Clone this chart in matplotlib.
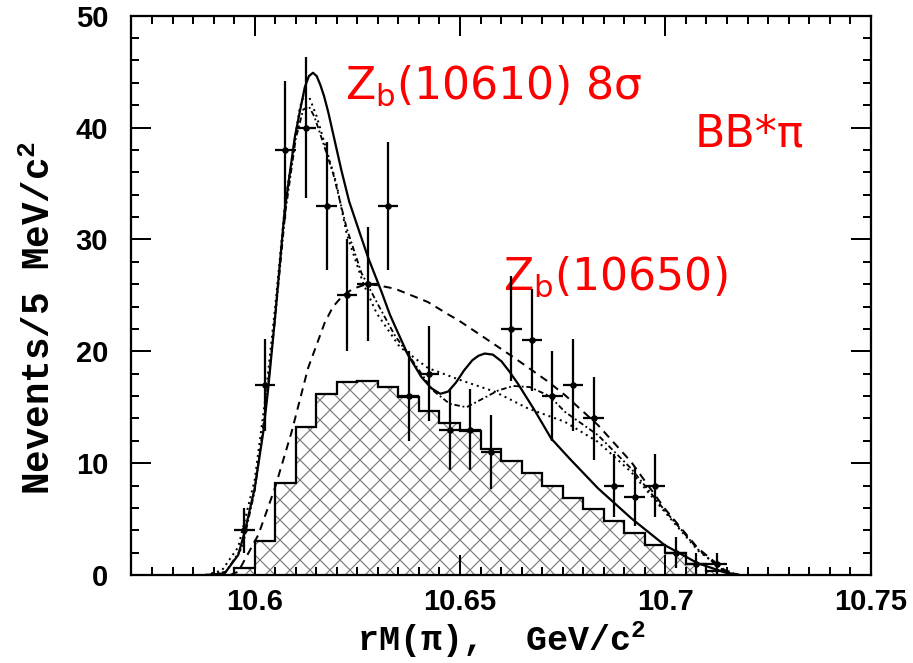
import numpy as np
import matplotlib
matplotlib.use('Agg')
import matplotlib.pyplot as plt
from matplotlib.ticker import MultipleLocator, FixedLocator

# figure is drawn at 120 dpi so that the 'xx' hatch gets the coarser spacing
DPI = 120
plt.rcParams['hatch.linewidth'] = 0.7
plt.rcParams['mathtext.default'] = 'regular'

# -----------------------------
# data
# -----------------------------

# data points (bin centres, 5 MeV bins)
pt_x = [10.5975, 10.6025, 10.6075, 10.6125, 10.6175, 10.6225, 10.6275, 10.6325,
        10.6375, 10.6425, 10.6475, 10.6525, 10.6575, 10.6625, 10.6675, 10.6725,
        10.6775, 10.6825, 10.6875, 10.6925, 10.6975, 10.7025, 10.7075, 10.7125]
pt_y = [4, 17, 38, 40, 33, 25, 26, 33, 16, 18, 13, 13, 11, 22, 21, 16,
        17, 14, 8, 7, 8, 2, 1, 1]

# hatched background histogram
bkg_edges = np.arange(10.595, 10.7151, 0.005)
bkg_vals = [0.65, 3.05, 8.2, 13.25, 16.15, 17.25, 17.35, 16.8, 15.9, 14.7, 13.6, 12.9,
            11.3, 10.15, 9.1, 8.0, 6.9, 5.9, 4.8, 3.75, 2.7, 1.95, 0.95, 0.4]

# total fit (solid)
fit_x = [10.588, 10.5927, 10.596, 10.5976, 10.600, 10.6021, 10.6033, 10.6049, 10.6073,
         10.6098, 10.6112, 10.6122, 10.6132, 10.6142, 10.6151, 10.6160, 10.6169,
         10.6179, 10.6195, 10.6211, 10.6230, 10.6252, 10.6276, 10.6309, 10.6329,
         10.6341, 10.6373, 10.6406, 10.6430, 10.6452, 10.6471, 10.6490, 10.6510,
         10.6530, 10.6545, 10.6560, 10.6580, 10.6601, 10.6620, 10.6641, 10.6682,
         10.6722, 10.6767, 10.6836, 10.6917, 10.6998, 10.7079, 10.7144, 10.718]
fit_y = [0, 0.15, 1.8, 3.9, 7.75, 12.8, 16.7, 22.8, 32.6, 39.2, 41.8, 43.6, 44.6,
         44.9, 44.6, 43.8, 42.8, 41.4, 38.8, 36.2, 33.4, 31.0, 28.4, 25.3, 23.3,
         22.3, 19.7, 17.7, 16.7, 16.2, 16.4, 17.2, 18.3, 19.2, 19.6, 19.8, 19.7,
         19.1, 18.2, 17.1, 14.7, 12.2, 10.4, 7.75, 5.07, 2.68, 1.05, 0.24, 0]

# dashed component
dsh_x = [10.594, 10.5960, 10.6009, 10.6049, 10.6090, 10.6130, 10.6171, 10.6191,
         10.6215, 10.6240, 10.6272, 10.6300, 10.6341, 10.6402, 10.6422, 10.6471,
         10.6495, 10.6552, 10.6633, 10.6714, 10.6755, 10.6836, 10.6917, 10.6998,
         10.7079, 10.7144, 10.718]
dsh_y = [0, 0.3, 3.6, 7.75, 12.8, 18.5, 22.6, 24.0, 25.0, 25.6, 26.0, 25.9, 25.6,
         24.7, 24.4, 23.3, 22.8, 21.4, 19.4, 17.3, 16.1, 13.4, 10.1, 5.96, 2.4, 0.45, 0]

# dotted component
dot_x = [10.588, 10.592, 10.596, 10.600, 10.6025, 10.605, 10.6075, 10.610, 10.6110,
         10.6120, 10.6132, 10.6151, 10.6175, 10.6199, 10.6224, 10.6264, 10.6297,
         10.6353, 10.6422, 10.6503, 10.6584, 10.6665, 10.6755, 10.6836, 10.6917,
         10.6998, 10.7079, 10.7144, 10.718]
dot_y = [0, 0.4, 2.5, 8.5, 15.5, 24.0, 33.5, 39.5, 41.8, 42.9, 42.8, 41.0, 38.0,
         35.0, 30.5, 26.1, 23.4, 20.4, 18.5, 17.4, 16.4, 14.9, 13.7, 11.9, 9.2,
         5.66, 2.2, 0.35, 0]

# dash-dotted component
dd_x = [10.589, 10.593, 10.597, 10.600, 10.6025, 10.605, 10.6075, 10.610, 10.6118,
        10.6132, 10.6145, 10.6159, 10.6191, 10.6224, 10.6260, 10.6300, 10.6340,
        10.6378, 10.6434, 10.6475, 10.6516, 10.6552, 10.6593, 10.6630, 10.6670,
        10.6718, 10.6755, 10.6836, 10.6917, 10.6998, 10.7079, 10.7144, 10.718]
dd_y = [0, 0.3, 2.5, 7.5, 14.5, 23.0, 32.5, 39.0, 41.6, 41.9, 41.0, 39.5, 35.9,
        31.0, 27.0, 24.2, 21.5, 19.5, 16.5, 15.3, 15.0, 15.7, 16.5, 16.9, 16.8,
        16.0, 14.6, 12.5, 9.5, 5.8, 2.3, 0.3, 0]

x_ticks = [10.6, 10.65, 10.7, 10.75]
x_tick_labels = ['10.6', '10.65', '10.7', '10.75']

# -----------------------------
# figure
# -----------------------------
fig = plt.figure(figsize=(913 / DPI, 663 / DPI), dpi=DPI)
ax = fig.add_axes([0.144, 0.1327, 0.8097, 0.8436])

# background histogram: hatched fill + black outline
ax.stairs(bkg_vals, bkg_edges, fill=True, facecolor='white', edgecolor='#7a7a7a',
          hatch='xx', linewidth=0, zorder=1)
ax.stairs(bkg_vals, bkg_edges, color='black', linewidth=1.35, zorder=2)

# fit curves
ax.plot(dsh_x, dsh_y, color='black', lw=1.2, ls=(0, (4, 3)), zorder=3)
ax.plot(dot_x, dot_y, color='black', lw=1.2, ls=(0, (1, 2)), zorder=3)
ax.plot(dd_x, dd_y, color='black', lw=1.1, ls=(0, (3, 1.5, 1, 1.5)), zorder=3)
ax.plot(fit_x, fit_y, color='black', lw=1.35, zorder=4)

# data with sqrt(N) errors
ax.errorbar(pt_x, pt_y, yerr=np.sqrt(pt_y), xerr=0.0025, fmt='o', color='black',
            ms=2.9, elinewidth=1.35, capsize=0, zorder=5)

# labels on plot
red = '#ff0000'
ax.text(10.6219, 42.6, r'Z$_{b}$(10610) 8σ', color=red, fontsize=26.5,
        ha='left', va='baseline')
ax.text(10.7071, 38.3, 'BB*π', color=red, fontsize=26.5, ha='left', va='baseline')
ax.text(10.6604, 25.5, r'Z$_{b}$(10650)', color=red, fontsize=26.5,
        ha='left', va='baseline')

# axes
ax.set_xlim(10.57, 10.75)
ax.set_ylim(0, 50)
ax.xaxis.set_major_locator(FixedLocator(x_ticks))
ax.set_xticklabels(x_tick_labels)
ax.xaxis.set_minor_locator(MultipleLocator(0.005))
ax.yaxis.set_major_locator(MultipleLocator(10))
ax.yaxis.set_minor_locator(MultipleLocator(2))

ax.tick_params(which='both', direction='in', top=True, right=True, width=1.2)
ax.tick_params(which='major', length=12)
ax.tick_params(which='minor', length=5)
ax.tick_params(axis='x', which='major', pad=8)
ax.tick_params(axis='y', which='major', pad=14)
for lab in ax.get_xticklabels() + ax.get_yticklabels():
    lab.set_fontfamily('Liberation Sans')
    lab.set_fontweight('bold')
    lab.set_fontsize(17.5)
for sp in ax.spines.values():
    sp.set_linewidth(1.35)

ax.set_xlabel(r'rM($\pi$),  GeV/c$^{2}$', fontfamily='Liberation Mono',
              fontweight='bold', fontsize=21, labelpad=2)
ax.set_ylabel(r'Nevents/5 MeV/c$^{2}$', fontfamily='Liberation Mono',
              fontweight='bold', fontsize=22.5)
ax.yaxis.set_label_coords(-0.099, 0.46)

plt.savefig('out.png', dpi=DPI)
